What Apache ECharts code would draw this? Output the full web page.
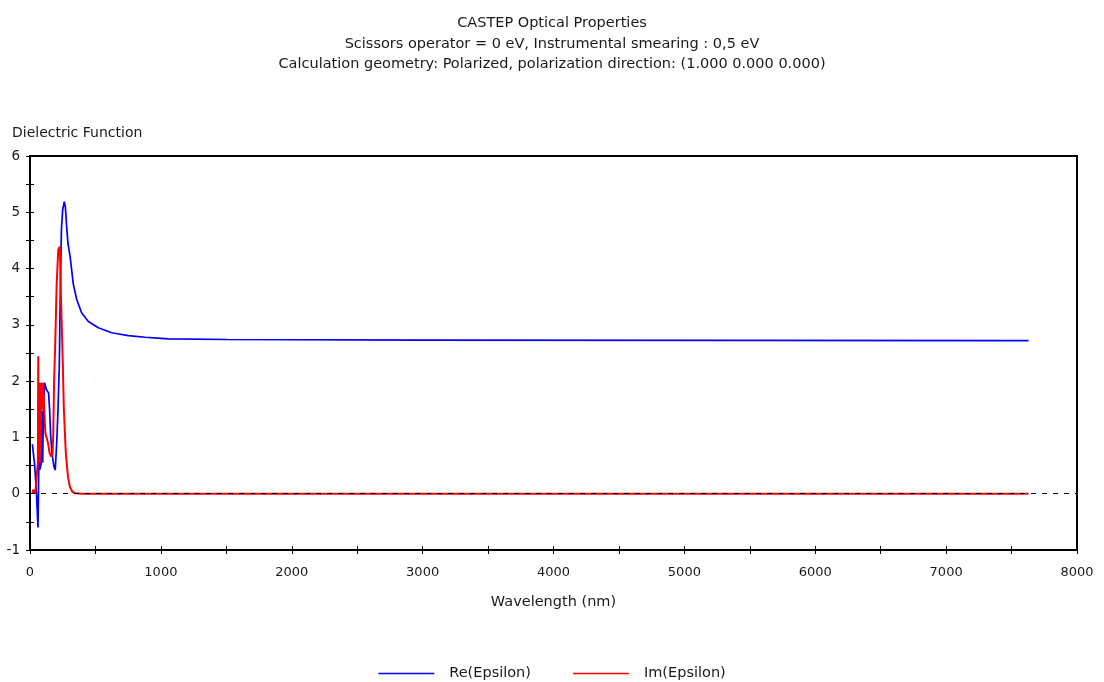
<!DOCTYPE html>
<html>
<head>
<meta charset="utf-8">
<title>CASTEP Optical Properties</title>
<script src="https://cdn.jsdelivr.net/npm/echarts@6/dist/echarts.min.js"></script>
<style>
  html, body { margin: 0; padding: 0; background: #ffffff; }
  #chart { width: 1104px; height: 682px; }
</style>
</head>
<body>
<div id="chart"></div>
<script>
// Dielectric function (real part) vs wavelength
const reWavelength = [18, 28, 35, 42, 48, 56, 61, 69, 76, 86, 92, 97, 102, 112, 125, 142, 150, 158, 168, 183, 193,
  204, 214, 224, 231, 240, 250, 262, 270, 280, 290, 306, 331, 357, 395, 446, 522, 624, 751, 879, 1000, 1057,
  1510, 3000, 7630];
const reValues = [0.88, 0.87, 0.52, 0.50, 0.07, 0.05, -0.60, 0.84, 0.43, 0.55, 1.46, 0.55, 1.49, 1.97, 1.85, 1.79, 1.49, 1.02, 0.72, 0.48, 0.42,
  0.90, 1.49, 2.30, 3.50, 4.69, 5.05, 5.19, 5.10, 4.75, 4.45, 4.22, 3.72, 3.45, 3.21, 3.06, 2.95, 2.86, 2.81, 2.78, 2.76, 2.75,
  2.74, 2.73, 2.72];

// Dielectric function (imaginary part) vs wavelength
const imWavelength = [18, 24, 34, 40, 55, 60, 63, 66, 70, 74, 78, 82, 86, 92, 100, 107, 117, 138, 150, 163, 172,
  178, 184, 192, 204, 216, 228, 237, 250, 258, 273, 290, 305, 325, 350, 400, 7630];
const imValues = [0.00, 0.07, 0.07, 0.00, 0.02, 0.55, 2.44, 0.70, 1.97, 0.55, 1.97, 0.80, 1.97, 1.50, 1.97, 1.60, 1.08, 0.90, 0.72, 0.66, 0.70,
  1.08, 2.00, 2.60, 3.74, 4.33, 4.39, 3.45, 2.38, 1.55, 0.75, 0.30, 0.12, 0.03, 0.01, 0.00, 0.00];

// Axis ticks
const xTicks = { min: 0, max: 8000, interval: 1000 };
const yTicks = { min: -1, max: 6, interval: 1 };

const titleLines = [
  'CASTEP Optical Properties',
  'Scissors operator = 0 eV, Instrumental smearing : 0,5 eV',
  'Calculation geometry: Polarized, polarization direction: (1.000 0.000 0.000)'
];
const yAxisTitle = 'Dielectric Function';
const xAxisTitle = 'Wavelength (nm)';
const seriesNames = ['Re(Epsilon)', 'Im(Epsilon)'];

const FONT = 'DejaVu Sans';
const FS = 14.5;
const TEXT = '#1a1a1a';

const pairs = (xs, ys) => xs.map((x, i) => [x, ys[i]]);

const chart = echarts.init(document.getElementById('chart'), null, { renderer: 'canvas' });

// Main axis (outer ticks + labels) and a twin axis that draws the inner half of each tick
function xAxisDef(inner) {
  return {
    type: 'value', position: 'bottom',
    min: xTicks.min, max: xTicks.max, interval: xTicks.interval,
    name: inner ? '' : xAxisTitle,
    nameLocation: 'middle', nameGap: 45,
    nameTextStyle: { fontFamily: FONT, fontSize: FS, color: TEXT },
    axisLine: { show: !inner, onZero: false, lineStyle: { color: '#000', width: 2 } },
    axisTick: { show: true, inside: inner, length: 4, lineStyle: { color: '#000', width: 1 } },
    minorTick: { show: true, splitNumber: 2, length: 4, lineStyle: { color: '#000', width: 1 } },
    axisLabel: { show: !inner, fontFamily: FONT, fontSize: 13, color: TEXT, margin: 16,
      formatter: v => String(v) },
    splitLine: { show: false }
  };
}
function yAxisDef(inner) {
  return {
    type: 'value', position: 'left',
    min: yTicks.min, max: yTicks.max, interval: yTicks.interval,
    axisLine: { show: !inner, onZero: false, lineStyle: { color: '#000', width: 2 } },
    axisTick: { show: true, inside: inner, length: 4, lineStyle: { color: '#000', width: 1 } },
    minorTick: { show: true, splitNumber: 2, length: 4, lineStyle: { color: '#000', width: 1 } },
    axisLabel: { show: !inner, fontFamily: FONT, fontSize: 13.5, color: TEXT, margin: 10,
      formatter: v => String(v) },
    splitLine: { show: false }
  };
}

chart.setOption({
  animation: false,
  backgroundColor: '#ffffff',
  title: [
    {
      text: titleLines.join('\n'),
      left: 'center', top: 8,
      textStyle: { fontFamily: FONT, fontSize: FS, fontWeight: 'normal', color: TEXT, lineHeight: 20.5 }
    },
    {
      text: yAxisTitle,
      left: 7, top: 121,
      textStyle: { fontFamily: FONT, fontSize: 14, fontWeight: 'normal', color: TEXT }
    }
  ],
  grid: {
    left: 30, right: 27, top: 156, bottom: 132,
    show: true, borderColor: '#000', borderWidth: 2, backgroundColor: 'transparent'
  },
  xAxis: [xAxisDef(false), xAxisDef(true)],
  yAxis: [yAxisDef(false), yAxisDef(true)],
  legend: {
    data: seriesNames,
    left: 'center', top: 661,
    icon: 'rect', itemWidth: 56, itemHeight: 1.5, itemGap: 42,
    textStyle: { fontFamily: FONT, fontSize: FS, color: TEXT, padding: [0, 0, 0, 10] }
  },
  series: [
    {
      name: seriesNames[0], type: 'line', xAxisIndex: 0, yAxisIndex: 0,
      data: pairs(reWavelength, reValues),
      showSymbol: false, symbol: 'none', z: 2,
      lineStyle: { color: '#0000ff', width: 1.7 },
      itemStyle: { color: '#0000ff' },
      markLine: {
        silent: true, symbol: 'none', label: { show: false },
        lineStyle: { color: '#000', type: [5, 6], width: 1 },
        data: [{ yAxis: 0 }]
      }
    },
    {
      name: seriesNames[1], type: 'line', xAxisIndex: 0, yAxisIndex: 0,
      data: pairs(imWavelength, imValues),
      showSymbol: false, symbol: 'none', z: 3,
      lineStyle: { color: '#ff0000', width: 2 },
      itemStyle: { color: '#ff0000' }
    }
  ]
});
</script>
</body>
</html>
